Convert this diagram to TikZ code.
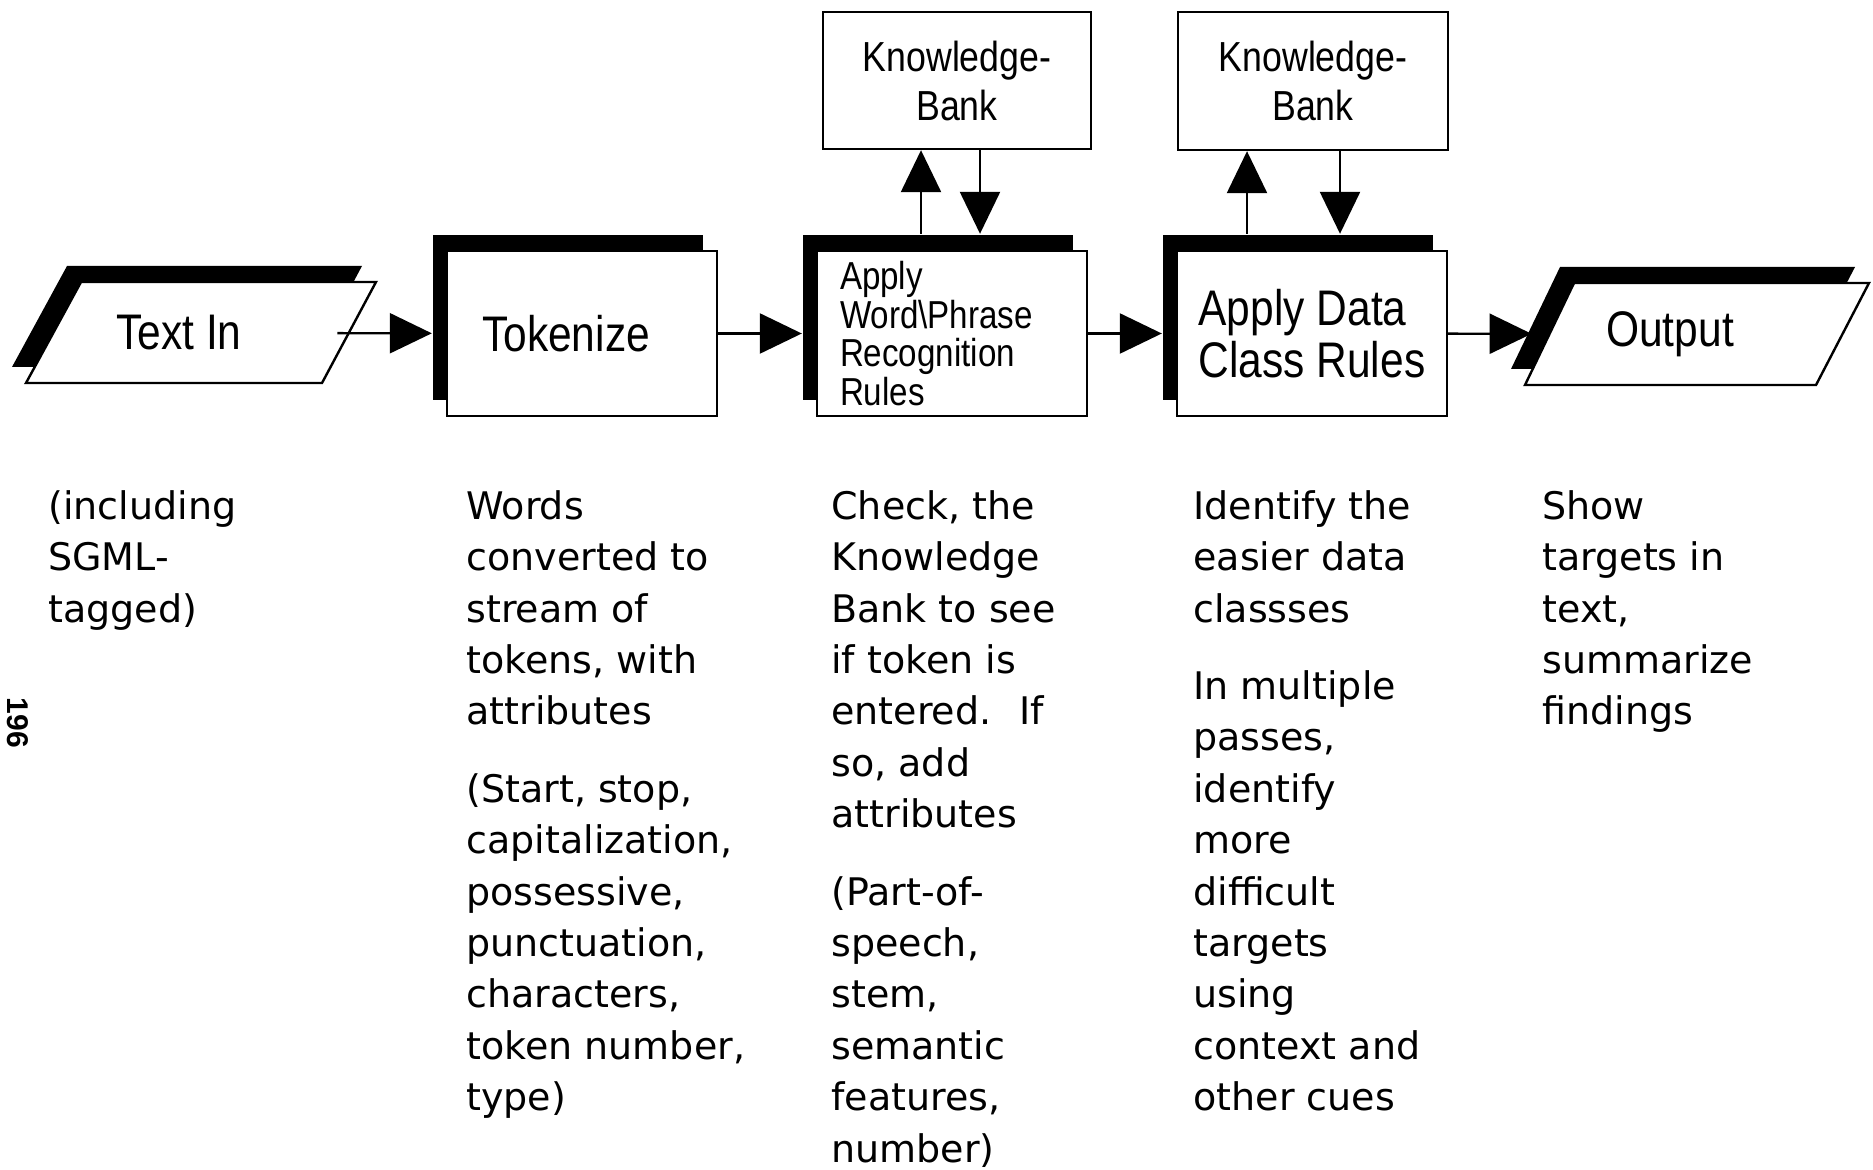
\documentclass[tikz,border=0pt]{standalone}
\usepackage{fontspec}
\newfontfamily\bodyfont{DejaVu Sans}
\newfontfamily\boxfont[FakeStretch=0.85]{Liberation Sans}
\newfontfamily\numfont{Liberation Sans}
\usetikzlibrary{shadows,arrows.meta,calc}
\begin{document}
\begin{tikzpicture}[x=0.5pt,y=-0.5pt,
  shade/.style={general shadow={shadow xshift=-7pt, shadow yshift=8pt, fill=black, opacity=1}},
  stepbox/.style={shade, draw, line width=1.2pt, fill=white, minimum width=135pt, minimum height=82.5pt, inner sep=0pt},
  kbbox/.style={draw, line width=1.2pt, fill=white, minimum width=134pt, minimum height=68.5pt, inner sep=0pt, align=center,
    font=\boxfont\fontsize{21}{24.5}\selectfont},
  paraline/.style={shade, draw, line width=1.2pt, fill=white},
  big/.style={font=\boxfont\fontsize{25}{25.7}\selectfont},
  arr/.style={line width=1.2pt, -{Triangle[length=21pt,width=20pt]}},
  body/.style={anchor=north west, align=left, inner sep=0pt, font=\bodyfont\fontsize{19}{25.7}\selectfont}]
\fill[white] (0,0) rectangle (1873,1170);
\useasboundingbox (0,0) rectangle (1873,1170);

% parallelograms (input / output)
\path[paraline] (81,282) -- (376,282) -- (322,383) -- (26,383) -- cycle;
\path[paraline] (1574,283) -- (1869,283) -- (1816,385) -- (1525,385) -- cycle;

% main flow
\node[big, inner sep=0pt, minimum width=158pt, minimum height=50pt] (tin) at (179,333) {Text In};
\node[stepbox, big] (tok) at (582,333.5) {Tokenize\kern16pt};
\node[stepbox, align=left, text width=112pt, inner xsep=11.5pt, font=\boxfont\fontsize{19.5}{19.3}\selectfont] (ap) at (952,333.5)
  {Apply\\Word\textbackslash Phrase\\Recognition\\Rules};
\node[stepbox, big, align=left] (dat) at (1312,333.5) {Apply Data\\Class Rules};
\node[big, inner sep=0pt, minimum width=138pt, minimum height=50pt] (out) at (1670,334) {Output};

% knowledge banks
\node[kbbox] (kb1) at (957,80.5) {Knowledge-\\Bank};
\node[kbbox, minimum width=135pt, minimum height=69pt] (kb2) at (1313,81) {Knowledge-\\Bank};

% horizontal connectors
\draw[arr, shorten >=7pt] (tin) -- (tok);
\draw[arr, shorten >=7pt] (tok) -- (ap);
\draw[arr, shorten >=7pt] (ap) -- (dat);
\draw[arr] (dat) -- (out);

% vertical connectors
\draw[arr] ($(ap.north)+(-31,-16)$) -- ($(ap.north |- kb1.south)+(-31,0)$);
\draw[arr] ($(ap.north |- kb1.south)+(28,0)$) -- ($(ap.north)+(28,-16)$);
\draw[arr] ($(dat.north)+(-65,-16)$) -- ($(dat.north |- kb2.south)+(-65,0)$);
\draw[arr] ($(dat.north |- kb2.south)+(28,0)$) -- ($(dat.north)+(28,-16)$);

% descriptions
\node[body] (d1) at (48,490) {(including\\SGML-\\tagged)};
\node[body] (d2) at (466,490) {Words\\converted to\\stream of\\tokens, with\\attributes\\[13pt]
  (Start, stop,\\capitalization,\\possessive,\\punctuation,\\characters,\\token number,\\type)};
\node[body] (d3) at (831,490) {Check, the\\Knowledge\\Bank to see\\if token is\\entered.~ If\\so, add\\attributes\\[13pt]
  (Part-of-\\speech,\\stem,\\semantic\\features,\\number)};
\node[body] (d4) at (1193,490) {Identify the\\easier data\\classses\\[13pt]
  In multiple\\passes,\\identify\\more\\difficult\\targets\\using\\context and\\other cues};
\node[body] (d5) at (1542,490) {Show\\targets in\\text,\\summarize\\findings};

% page number
\node[rotate=-90, inner sep=0pt, font=\numfont\bfseries\fontsize{15}{15}\selectfont] (pg) at (18,723) {196};
\end{tikzpicture}
\end{document}
